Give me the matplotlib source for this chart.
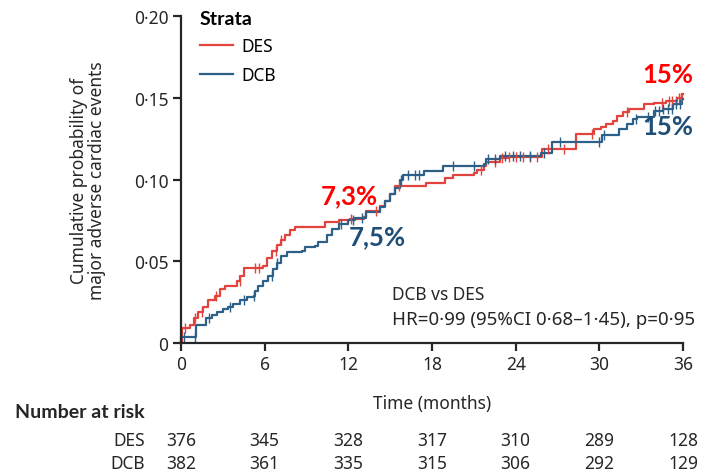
import numpy as np
import matplotlib
matplotlib.use("Agg")
import matplotlib.pyplot as plt

plt.rcParams['font.family'] = ['Noto Sans', 'DejaVu Sans']

# Kaplan-Meier style cumulative incidence
des_t = [0, 0.05, 0.65, 0.9, 1.25, 1.6, 1.95, 2.45, 2.8, 3.15, 4.0, 4.25, 4.5,
         5.9, 6.15, 6.5, 6.85, 7.2, 7.45, 7.8, 8.2, 10.3, 11.3, 12.1, 13.1,
         13.3, 14.3, 14.6, 15.0, 15.35, 17.6, 18.9, 19.5, 21.0, 21.2, 21.7,
         21.9, 22.9, 23.5, 25.9, 28.3, 29.6, 30.1, 30.5, 31.0, 31.25, 31.7,
         32.1, 33.2, 33.9, 34.8, 35.6, 35.9, 36.0]
des_p = [0, 0.009, 0.011, 0.015, 0.019, 0.022, 0.026, 0.029, 0.033, 0.035,
         0.038, 0.041, 0.046, 0.047, 0.052, 0.056, 0.060, 0.063, 0.066, 0.069,
         0.071, 0.074, 0.075, 0.076, 0.077, 0.081, 0.084, 0.087, 0.091, 0.096,
         0.098, 0.101, 0.1025, 0.104, 0.106, 0.108, 0.111, 0.113, 0.114,
         0.1187, 0.128, 0.131, 0.132, 0.134, 0.136, 0.139, 0.141, 0.143,
         0.146, 0.147, 0.148, 0.150, 0.152, 0.152]

dcb_t = [0, 0.02, 1.1, 1.8, 2.2, 2.55, 3.0, 3.4, 3.75, 4.2, 4.7, 5.2, 5.3, 5.55,
         5.9, 6.25, 6.6, 6.85, 7.2, 7.6, 8.7, 8.9, 9.6, 9.85, 10.45, 10.8,
         11.3, 12.0, 12.5, 13.3, 14.3, 14.6, 15.0, 15.35, 15.7, 15.95, 17.4,
         18.8, 21.7, 21.9, 22.9, 25.8, 26.6, 30.2, 31.4, 32.0, 32.4, 32.7,
         33.9, 34.6, 35.3, 35.9, 36.0]
dcb_p = [0, 0.0035, 0.011, 0.015, 0.017, 0.019, 0.021, 0.022, 0.024, 0.026,
         0.028, 0.029, 0.032, 0.035, 0.038, 0.041, 0.045, 0.049, 0.053, 0.0555,
         0.056, 0.0585, 0.0595, 0.062, 0.066, 0.070, 0.073, 0.075, 0.0765,
         0.080, 0.083, 0.087, 0.091, 0.095, 0.100, 0.103, 0.105, 0.108, 0.1095,
         0.1125, 0.1146, 0.116, 0.1227, 0.127, 0.131, 0.134, 0.137, 0.138,
         0.142, 0.143, 0.146, 0.149, 0.149]

# censoring ticks
des_cens = [0.3, 1.0, 1.5, 2.5, 4.2, 5.3, 5.6, 6.8, 7.2, 12.2, 14.0, 15.6,
            21.5, 22.5, 23.0, 23.5, 24.0, 24.5, 25.0, 25.5, 26.3, 27.5, 29.5,
            32.0, 34.5, 35.0, 35.2, 35.5, 35.7, 35.85]
dcb_cens = [0.2, 1.0, 2.0, 3.5, 4.5, 5.2, 6.5, 6.9, 11.5, 12.3, 13.0, 15.8,
            16.3, 16.8, 17.1, 19.5, 21.0, 22.0, 22.5, 23.2, 23.8, 24.3, 25.0,
            26.0, 27.2, 30.0, 30.3, 32.6, 33.5, 34.0, 34.3, 34.6, 34.9, 35.2,
            35.5, 35.8]

risk_times = [0, 6, 12, 18, 24, 30, 36]
risk_des = [376, 345, 328, 317, 310, 289, 128]
risk_dcb = [382, 361, 335, 315, 306, 292, 129]

red = '#e2433c'
blue = '#2d6089'
ink = '#262626'
fs = 12.5


def step_at(times, probs, t):
    idx = np.searchsorted(times, t, side='right') - 1
    return np.asarray(probs)[idx]


fig = plt.figure(figsize=(7.21, 4.77), dpi=100, facecolor='w')
ax = fig.add_axes([181 / 721, 1 - 344 / 477, 502 / 721, 327 / 477])

ax.plot(des_t, des_p, drawstyle='steps-post', color=red, lw=1.6, label='DES',
        clip_on=False)
ax.plot(dcb_t, dcb_p, drawstyle='steps-post', color=blue, lw=1.6, label='DCB',
        clip_on=False)
ax.plot(des_cens, step_at(des_t, des_p, des_cens), ls='none', marker='|',
        ms=7, mew=1.0, color=red, clip_on=False)
ax.plot(dcb_cens, step_at(dcb_t, dcb_p, dcb_cens), ls='none', marker='|',
        ms=7, mew=1.0, color=blue, clip_on=False)

ax.set_xlim(0, 36)
ax.set_ylim(0, 0.20)
ax.set_xticks(risk_times)
ax.set_xticklabels([str(v) for v in risk_times])
ax.set_yticks([0, 0.05, 0.10, 0.15, 0.20])
ax.set_yticklabels(['0', '0\u00b705', '0\u00b710', '0\u00b715', '0\u00b720'])
ax.tick_params(direction='out', length=6, width=1.6, labelsize=fs,
               colors=ink, pad=3)
for s in ('top', 'right'):
    ax.spines[s].set_visible(False)
for s in ('left', 'bottom'):
    ax.spines[s].set_linewidth(1.6)
    ax.spines[s].set_color(ink)

ax.set_xlabel('Time (months)', fontsize=fs, color=ink, labelpad=15)
ax.set_ylabel('Cumulative probability of\nmajor adverse cardiac events',
              fontsize=fs, color=ink, labelpad=20, linespacing=1.0)

leg = ax.legend(title='Strata', loc='upper left', frameon=False,
                bbox_to_anchor=(191 / 721, 1 - 2 / 477),
                bbox_transform=fig.transFigure, fontsize=fs,
                handlelength=1.9, handletextpad=0.5, labelspacing=0.62,
                borderpad=0, alignment='left',
                title_fontproperties={'family': 'Lato', 'weight': 'bold',
                                      'size': 14})

ax.text(15.1, 0.030, 'DCB vs DES', fontsize=fs, color=ink, va='center')
ax.text(15.1, 0.0145, 'HR=0\u00b799 (95%CI 0\u00b768\u20131\u00b745), p=0\u00b795',
        fontsize=13.5, color=ink, va='center')

ax.text(12.1, 0.0905, '7,3%', fontsize=18.5, fontweight='bold', color='#ff0000',
        ha='center', va='center', family='Lato')
ax.text(14.1, 0.0654, '7,5%', fontsize=18.5, fontweight='bold', color='#1f4e79',
        ha='center', va='center', family='Lato')
ax.text(34.9, 0.1645, '15%', fontsize=18.5, fontweight='bold', color='#ff0000',
        ha='center', va='center', family='Lato')
ax.text(34.9, 0.133, '15%', fontsize=18.5, fontweight='bold', color='#1f4e79',
        ha='center', va='center', family='Lato')

# number at risk table
trans = ax.get_xaxis_transform()
fig.text(15 / 721, 1 - 413 / 477, 'Number at risk', fontsize=14,
         fontweight='bold', family='Lato', color=ink, va='center')
for label, row, yy in (('DES', risk_des, 441), ('DCB', risk_dcb, 464)):
    yf = (344 - yy) / 327
    ax.text(-2.6, yf, label, transform=trans, ha='right', va='center',
            fontsize=fs, color=ink, clip_on=False)
    for t, n in zip(risk_times, row):
        ax.text(t, yf, str(n), transform=trans, ha='center', va='center',
                fontsize=fs, color=ink, clip_on=False)

fig.savefig('out.png', dpi=100)
